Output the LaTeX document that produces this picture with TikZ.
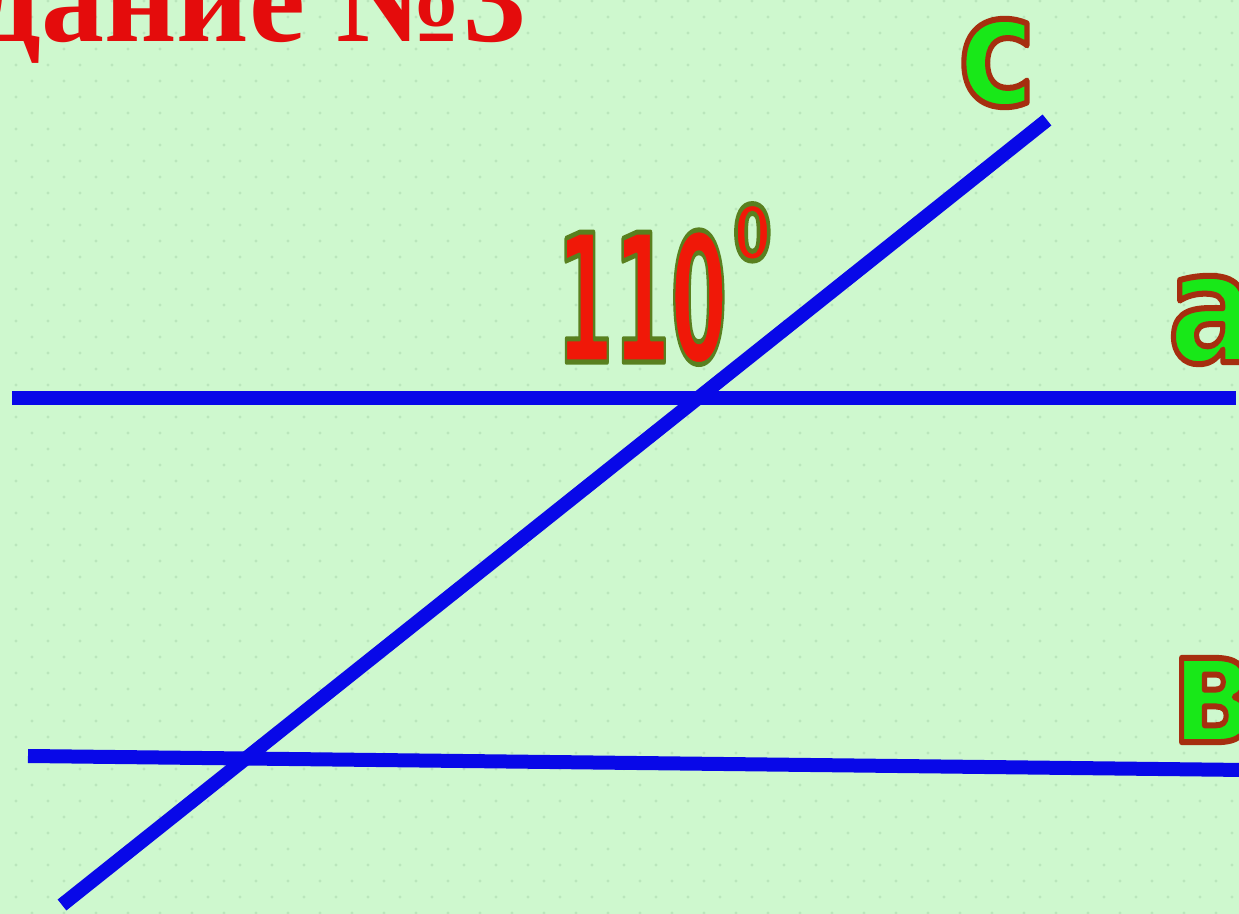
\documentclass[tikz,border=0pt]{standalone}
\usepackage{fontspec}
\usepackage{graphicx}
\usepackage{xcolor}
\usepackage{tikz}
\setmainfont{Liberation Serif}
\newfontfamily\labelfont{DejaVu Sans}
\definecolor{bgcol}{RGB}{206,248,206}
\definecolor{bgdot}{RGB}{186,230,188}
\definecolor{lineblue}{RGB}{8,8,232}
\definecolor{titlered}{RGB}{228,12,12}
\definecolor{labgreen}{RGB}{24,232,24}
\definecolor{numred}{RGB}{240,24,8}

% filled text with a stroked rim: fill colour, rim (r g b), rim width
\newcommand\edged[4]{%
  \textcolor{#1}{\special{pdf:literal direct #2 RG #3 w 1 j 2 Tr}#4%
  \special{pdf:literal direct 0 Tr}}}

\begin{document}
\begin{tikzpicture}[
  x=0.5pt, y=-0.5pt,
  line/.style={draw=lineblue, line width=7pt},
  lbl/.style={inner sep=0pt, font=\labelfont\bfseries\fontsize{77}{77}\selectfont}
]
\useasboundingbox (0,0) rectangle (1239,914);
\clip (0,0) rectangle (1239,914);
\fill[bgcol] (0,0) rectangle (1239,914);
% dotted paper
\foreach \j in {0,...,57}
  \foreach \i in {0,...,39}
    \fill[bgdot] ({16+32*\i+16*mod(\j,2)},{1+16*\j}) circle[radius=0.8pt];

\node[anchor=base east, inner sep=0pt, text=titlered,
  font=\bfseries\fontsize{63}{63}\selectfont] (title) at (527,42) {дание №3};

% the three lines
\coordinate (a1) at (12,398);
\coordinate (a2) at (1236,398);
\coordinate (b1) at (28,756);
\coordinate (b2) at (1245,770);
\coordinate (c1) at (62,905);
\coordinate (c2) at (1047,120);
\draw[line] (a1) -- (a2);
\draw[line] (b1) -- (b2);
\draw[line] (c1) -- (c2);

\node[lbl] (lc) at (997,63) {\scalebox{0.85}[1]{\edged{labgreen}{0.65 0.18 0.06}{3}{с}}};
\node[lbl] (la) at (1212,320) {\scalebox{0.85}[1]{\edged{labgreen}{0.65 0.18 0.06}{3}{а}}};
\node[lbl] (lb) at (1212,700) {\scalebox{0.85}[1]{\edged{labgreen}{0.65 0.18 0.06}{3}{в}}};

\node[anchor=base west, inner sep=0pt, font=\labelfont\bfseries\fontsize{89}{89}\selectfont]
  (ang) at (556,362) {\scalebox{0.46}[1]{\edged{numred}{0.35 0.5 0.12}{2.5}{110}}\kern3pt%
  \raisebox{51pt}{\fontsize{38}{38}\selectfont\scalebox{0.72}[1]{\edged{numred}{0.35 0.5 0.12}{2.5}{0}}}};
\end{tikzpicture}
\end{document}
